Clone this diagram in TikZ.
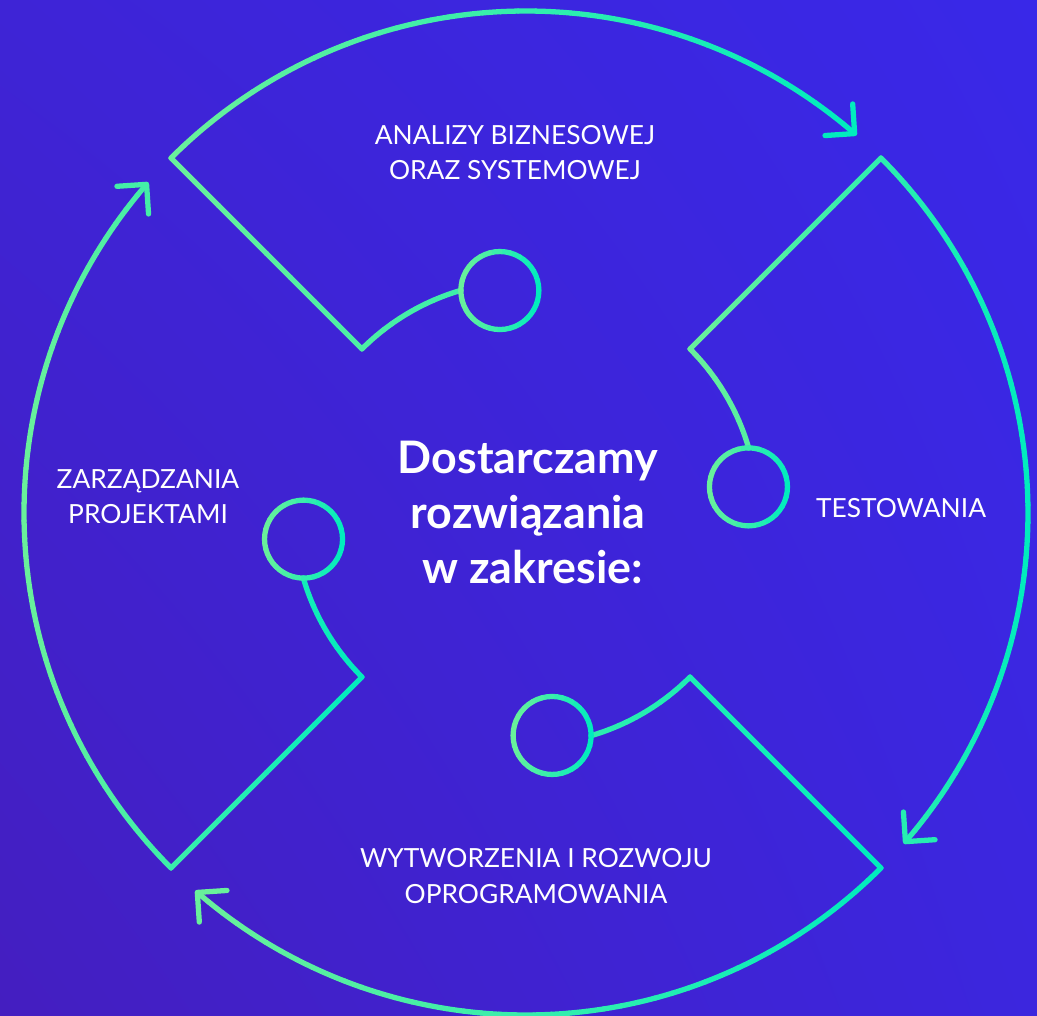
\documentclass[tikz,border=0pt]{standalone}
\usepackage{fontspec}
\setmainfont{Lato}
\usetikzlibrary{arrows.meta,shadings}
\definecolor{lgreen}{RGB}{105,240,155}
\definecolor{lteal}{RGB}{0,236,190}
\definecolor{bgul}{RGB}{62,36,214}
\definecolor{bgur}{RGB}{57,40,232}
\definecolor{bgll}{RGB}{68,30,192}
\definecolor{bglr}{RGB}{60,38,222}
\tikzset{
  ring/.style={line width=3pt, line cap=round, line join=round},
  tipped/.style={-{Straight Barb[length=4.2mm,width=8.4mm,round]}},
  plain/.style={},
  phase/.style={text=white, align=center, font=\fontsize{15}{20}\selectfont},
  headline/.style={text=white, align=center, font=\bfseries\fontsize{25.5}{31.3}\selectfont}
}

% mix value (0..100) of x=#1 between #2 and #3
\newcommand\mixat[3]{\pgfmathtruncatemacro\mixv{max(0,min(100,100*((#1)-(#2))/((#3)-(#2))))}}

% arc round the centre: radius #1, from #2 to #3 deg, x range #4..#5, #6 steps, style of last step #7
\newcommand\gradarc[7]{%
  \foreach \i in {1,...,#6}{
    \pgfmathsetmacro\angA{#2+(#3-(#2))*(\i-1)/#6}
    \pgfmathsetmacro\angB{#2+(#3-(#2))*\i/#6}
    \mixat{#1*cos((\angA+\angB)/2)}{#4}{#5}
    \ifnum\i=#6 \def\tipstyle{#7}\else\def\tipstyle{plain}\fi
    \draw[ring,\tipstyle,draw=lteal!\mixv!lgreen] (\angA:#1) arc[start angle=\angA,end angle=\angB,radius=#1];
  }}

% spoke at angle #1 from radius #2 to #3
\newcommand\gradline[5]{%
  \foreach \i in {1,...,8}{
    \pgfmathsetmacro\ra{#2+(#3-#2)*(\i-1)/8}
    \pgfmathsetmacro\rb{#2+(#3-#2)*\i/8}
    \mixat{(\ra+\rb)/2*cos(#1)}{#4}{#5}
    \draw[ring,draw=lteal!\mixv!lgreen] (#1:\ra) -- (#1:\rb);
  }}

% small ring, centre at (#1:#2), radius #3
\newcommand\gradring[3]{%
  \foreach \i in {1,...,24}{
    \pgfmathsetmacro\angA{15*(\i-1)}
    \mixat{cos(15*\i-7.5)}{-1}{1}
    \draw[ring,draw=lteal!\mixv!lgreen,shift={(#1:#2)}] (\angA:#3) arc[start angle=\angA,delta angle=15,radius=#3];
  }}

\begin{document}
\begin{tikzpicture}
  \useasboundingbox (-10.52,-10.06) rectangle (10.22,10.26);
  \shade[upper left=bgul, upper right=bgur, lower left=bgll, lower right=bglr] (-10.52,-10.06) rectangle (10.22,10.26);

  % four pieces of the cycle
  \foreach \th/\xa/\xb in {135/-7.1/6.61, 45/3.28/10.04, -45/-6.61/7.1, -135/-10.04/-3.28}{
    \pgfmathsetmacro\angE{\th-86.2}
    \gradarc{10.04}{\th}{\angE}{\xa}{\xb}{43}{tipped}
    \gradline{\th}{10.04}{4.64}{\xa}{\xb}
    \pgfmathsetmacro\angC{\th-28.7}
    \gradarc{4.64}{\th}{\angC}{\xa}{\xb}{12}{plain}
    \pgfmathsetmacro\angR{\th-38.3}
    \gradring{\angR}{4.48}{0.78}
  }

  \node[headline] (title) at (0.04,0.02) {Dostarczamy\\rozwiązania\\\hspace{0.2em}w zakresie:};
  \node[phase] (analiza) at (-0.22,7.21) {ANALIZY BIZNESOWEJ\\ORAZ SYSTEMOWEJ};
  \node[phase] (testy) at (7.5,0.1) {TESTOWANIA};
  \node[phase] (wytw) at (0.2,-7.26) {WYTWORZENIA I ROZWOJU\\OPROGRAMOWANIA};
  \node[phase] (zarz) at (-7.56,0.32) {ZARZĄDZANIA\\PROJEKTAMI};
\end{tikzpicture}
\end{document}
